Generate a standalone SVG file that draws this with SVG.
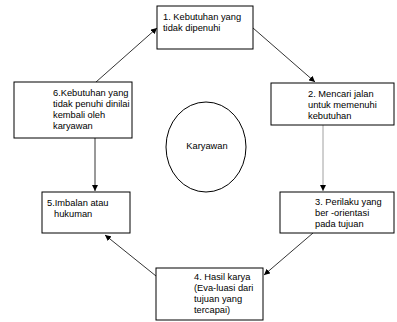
<svg xmlns="http://www.w3.org/2000/svg" width="397" height="322" viewBox="0 0 397 322">
<defs>
<style>
.box{fill:#fff;stroke:#000;stroke-width:1}
.t{font-family:"Liberation Sans",Arial,sans-serif;font-size:9.3px;fill:#000}
.c{stroke:#000;stroke-width:0.8;fill:none}
</style>
<marker id="ah" viewBox="0 0 10 10" refX="10" refY="5" markerWidth="6" markerHeight="6" markerUnits="userSpaceOnUse" orient="auto">
<path d="M0,0 L10,5 L0,10 Z" fill="#000"/>
</marker>
</defs>
<rect width="397" height="322" fill="#fff"/>
<g id="connectors">
<line class="c" x1="96" y1="82" x2="157" y2="28" marker-end="url(#ah)"/>
<line class="c" x1="253" y1="28" x2="315" y2="82" marker-end="url(#ah)"/>
<line class="c" x1="95" y1="138" x2="95" y2="191" marker-end="url(#ah)"/>
<line class="c" x1="323" y1="125" x2="323" y2="191" style="stroke:#888" marker-end="url(#ah)"/>
<line class="c" x1="313" y1="233" x2="264" y2="275" marker-end="url(#ah)"/>
<line class="c" x1="156" y1="276" x2="105" y2="235" marker-end="url(#ah)"/>
</g>
<g id="n1">
<rect class="box" x="157" y="6" width="96" height="43"/>
<text class="t" x="163" y="20">1. Kebutuhan yang</text>
<text class="t" x="163" y="31">tidak dipenuhi</text>
</g>
<g id="n2">
<rect class="box" x="271" y="83" width="123" height="42"/>
<text class="t" x="308" y="97">2. Mencari jalan</text>
<text class="t" x="308" y="108">untuk memenuhi</text>
<text class="t" x="308" y="119">kebutuhan</text>
</g>
<g id="n3">
<rect class="box" x="280" y="192" width="114" height="41"/>
<text class="t" x="315" y="205">3. Perilaku yang</text>
<text class="t" x="315" y="216">ber -orientasi</text>
<text class="t" x="315" y="227">pada tujuan</text>
</g>
<g id="n4">
<rect class="box" x="156" y="268" width="107" height="52"/>
<text class="t" x="194" y="280">4. Hasil karya</text>
<text class="t" x="194" y="291">(Eva-luasi dari</text>
<text class="t" x="194" y="302">tujuan yang</text>
<text class="t" x="194" y="313">tercapai)</text>
</g>
<g id="n5">
<rect class="box" x="42" y="192" width="88" height="41"/>
<text class="t" x="47" y="206">5.Imbalan atau</text>
<text class="t" x="54" y="217">hukuman</text>
</g>
<g id="n6">
<rect class="box" x="14" y="82" width="118" height="56"/>
<text class="t" x="53" y="96">6.Kebutuhan yang</text>
<text class="t" x="53" y="107">tidak penuhi dinilai</text>
<text class="t" x="53" y="118">kembali oleh</text>
<text class="t" x="53" y="129">karyawan</text>
</g>
<g id="center">
<ellipse cx="206" cy="147" rx="40" ry="45" fill="none" stroke="#000" stroke-width="1"/>
<text class="t" x="207" y="149" text-anchor="middle">Karyawan</text>
</g>
</svg>
